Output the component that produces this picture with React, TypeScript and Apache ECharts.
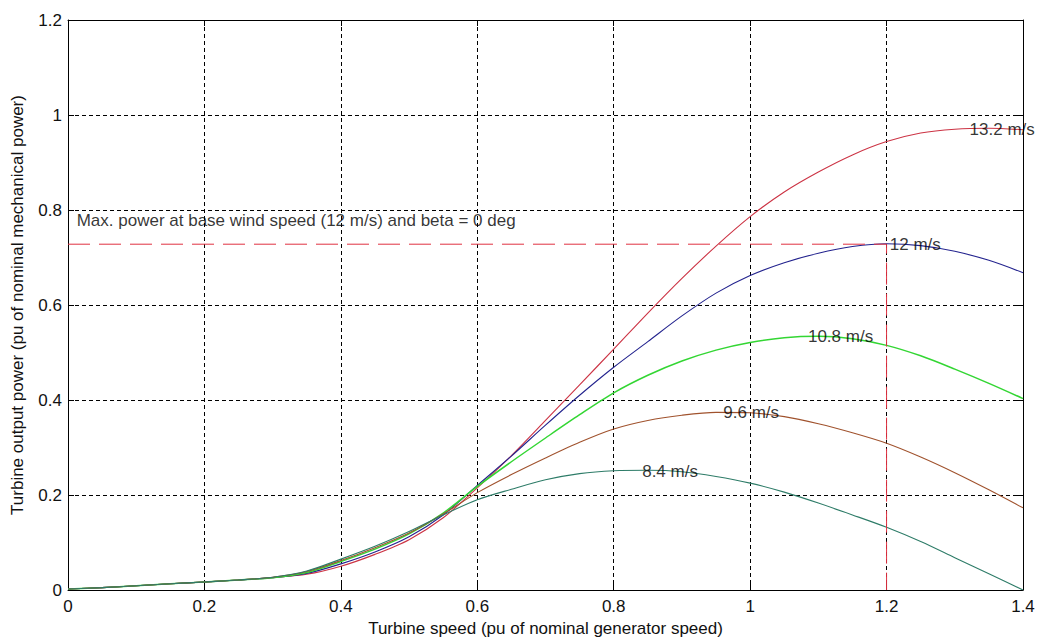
import React, { useEffect, useRef } from "react";
import * as echarts from "echarts";

// Turbine speed (pu)
const speed = [0, 0.05, 0.1, 0.15, 0.2, 0.25, 0.3, 0.35, 0.4, 0.45, 0.5, 0.55, 0.6, 0.65, 0.7, 0.75, 0.8, 0.85, 0.9, 0.95, 1.0, 1.05, 1.1, 1.15, 1.2, 1.25, 1.3, 1.35, 1.4];

// Turbine output power (pu) per wind speed
const p132 = [0.002, 0.005, 0.009, 0.013, 0.017, 0.021, 0.026, 0.033, 0.05, 0.075, 0.106, 0.152, 0.215, 0.283, 0.357, 0.432, 0.507, 0.583, 0.656, 0.724, 0.786, 0.838, 0.88, 0.916, 0.944, 0.962, 0.97, 0.972, 0.969];
const p12 = [0.002, 0.005, 0.009, 0.013, 0.017, 0.021, 0.026, 0.035, 0.055, 0.08, 0.112, 0.158, 0.22, 0.282, 0.347, 0.41, 0.469, 0.523, 0.577, 0.625, 0.662, 0.689, 0.709, 0.723, 0.729, 0.725, 0.713, 0.694, 0.668];
const p108 = [0.002, 0.005, 0.009, 0.013, 0.017, 0.021, 0.026, 0.037, 0.06, 0.086, 0.118, 0.162, 0.218, 0.27, 0.32, 0.369, 0.415, 0.452, 0.482, 0.505, 0.521, 0.531, 0.534, 0.529, 0.515, 0.493, 0.465, 0.435, 0.403];
const p96 = [0.002, 0.005, 0.009, 0.013, 0.017, 0.021, 0.027, 0.039, 0.062, 0.089, 0.12, 0.16, 0.205, 0.243, 0.278, 0.311, 0.339, 0.357, 0.368, 0.374, 0.373, 0.365, 0.35, 0.331, 0.309, 0.28, 0.247, 0.211, 0.173];
const p84 = [0.002, 0.005, 0.009, 0.013, 0.017, 0.021, 0.027, 0.04, 0.065, 0.092, 0.123, 0.158, 0.19, 0.212, 0.232, 0.245, 0.251, 0.252, 0.249, 0.239, 0.225, 0.206, 0.183, 0.158, 0.132, 0.102, 0.068, 0.034, 0.0];

const seriesNames = ["13.2 m/s", "12 m/s", "10.8 m/s", "9.6 m/s", "8.4 m/s"];
const seriesValues = [p132, p12, p108, p96, p84];
const seriesColors = ["#cc3344", "#23238e", "#33d633", "#a0522d", "#2e7c68"];

// Curve label anchors (speed, power) – left edge of each label text
const labelSpeed = [1.321, 1.204, 1.084, 0.96, 0.841];
const labelPower = [0.97, 0.727, 0.533, 0.373, 0.249];

// Maximum power point at base wind speed
const maxSpeed = 1.2;
const maxPower = 0.728;
const maxText = "Max. power at base wind speed (12 m/s) and beta = 0 deg";
const maxTextAnchor = [0.012, 0.777];

const xTicks = { min: 0, max: 1.4, interval: 0.2 };
const yTicks = { min: 0, max: 1.2, interval: 0.2 };

const FONT = "'Liberation Sans', Arial, sans-serif";

export default function App() {
  const ref = useRef<HTMLDivElement>(null);

  useEffect(() => {
    if (!ref.current) return;
    const chart = echarts.init(ref.current, undefined, { renderer: "svg" });

    const fmt = (v: number) => String(Math.round(v * 10) / 10);

    const curveSeries = seriesValues.map((vals, i) => ({
      type: "line",
      name: seriesNames[i],
      data: speed.map((x, j) => [x, vals[j]]),
      showSymbol: false,
      symbol: "none",
      smooth: 0.3,
      lineStyle: { color: seriesColors[i], width: i === 2 ? 1.5 : 1.1 },
      z: 3,
    }));

    const labelData = seriesNames.map((n, i) => ({ name: n, value: [labelSpeed[i], labelPower[i]] }));
    labelData.push({ name: maxText, value: maxTextAnchor });

    const labelSeries = {
      type: "scatter",
      symbol: "circle",
      symbolSize: 1,
      itemStyle: { color: "rgba(0,0,0,0)" },
      data: labelData,
      label: {
        show: true,
        position: "right",
        distance: 0,
        formatter: "{b}",
        color: "#000",
        fontFamily: FONT,
        fontSize: 17,
      },
      labelLayout: { hideOverlap: false },
      z: 5,
      silent: true,
    };

    const maxLine = {
      type: "line",
      data: [
        [0, maxPower],
        [maxSpeed, maxPower],
        [maxSpeed, 0],
      ],
      symbol: "none",
      lineStyle: { color: "#e03040", width: 1, type: [22, 9] },
      z: 4,
    };

    chart.setOption({
      animation: false,
      backgroundColor: "#ffffff",
      grid: {
        left: 68,
        right: 19,
        top: 20,
        bottom: 54,
        show: false,
      },
      xAxis: [
        {
          type: "value",
          ...xTicks,
          name: "Turbine speed (pu of nominal generator speed)",
          nameLocation: "middle",
          nameGap: 29,
          nameTextStyle: { color: "#111", fontFamily: FONT, fontSize: 17 },
          axisLine: { show: true, onZero: false, lineStyle: { color: "#000", width: 1 } },
          axisTick: { show: true, inside: true, length: 6, lineStyle: { color: "#000" } },
          axisLabel: { color: "#111", fontFamily: FONT, fontSize: 17, margin: 8, formatter: fmt },
          splitLine: { show: true, lineStyle: { color: "#000", width: 1, type: [4, 3] } },
        },
        {
          type: "value",
          position: "top",
          ...xTicks,
          axisLine: { show: true, onZero: false, lineStyle: { color: "#000", width: 1 } },
          axisTick: { show: true, inside: true, length: 6, lineStyle: { color: "#000" } },
          axisLabel: { show: false },
          splitLine: { show: false },
        },
      ],
      yAxis: [
        {
          type: "value",
          ...yTicks,
          name: "Turbine output power (pu of nominal mechanical power)",
          nameLocation: "middle",
          nameGap: 42,
          nameTextStyle: { color: "#111", fontFamily: FONT, fontSize: 17 },
          axisLine: { show: true, onZero: false, lineStyle: { color: "#000", width: 1 } },
          axisTick: { show: true, inside: true, length: 6, lineStyle: { color: "#000" } },
          axisLabel: { color: "#111", fontFamily: FONT, fontSize: 17, margin: 6, formatter: fmt },
          splitLine: { show: true, lineStyle: { color: "#000", width: 1, type: [4, 3] } },
        },
        {
          type: "value",
          position: "right",
          ...yTicks,
          axisLine: { show: true, onZero: false, lineStyle: { color: "#000", width: 1 } },
          axisTick: { show: true, inside: true, length: 6, lineStyle: { color: "#000" } },
          axisLabel: { show: false },
          splitLine: { show: false },
        },
      ],
      series: [...curveSeries, maxLine, labelSeries],
    });

    return () => chart.dispose();
  }, []);

  return (
    <div
      ref={ref}
      style={{ position: "fixed", left: 0, top: 0, width: 1042, height: 644, background: "#fff" }}
    />
  );
}
